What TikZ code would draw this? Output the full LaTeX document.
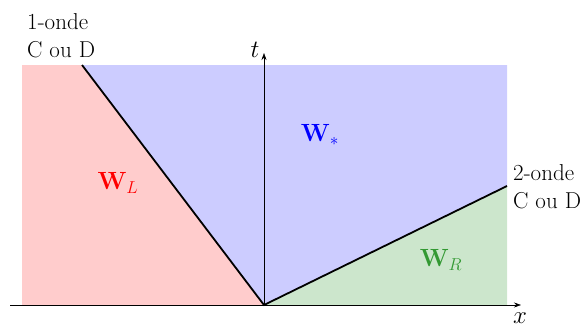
\documentclass[tikz,border=0pt]{standalone}
\usetikzlibrary{arrows.meta}
\definecolor{regL}{RGB}{255,204,204}
\definecolor{regS}{RGB}{204,204,255}
\definecolor{regR}{RGB}{204,230,204}
\definecolor{txR}{RGB}{51,153,51}
\begin{document}
\begin{tikzpicture}[x=1pt,y=-1pt,
  lbl/.style={font=\fontsize{23}{28}\selectfont, inner sep=0pt},
  wave/.style={line width=1.8pt},
  axis/.style={line width=0.6pt, -{Stealth[length=7pt,width=5pt]}}]
\useasboundingbox (0,0) rectangle (582,327);
\coordinate (O) at (264,305);
\coordinate (A) at (82,65);
\coordinate (B) at (507,186);
\fill[regL] (22,65) -- (A) -- (O) -- (22,305) -- cycle;
\fill[regS] (A) -- (507,65) -- (B) -- (O) -- cycle;
\fill[regR] (O) -- (B) -- (507,305) -- cycle;
\coordinate (xs) at (10,305);
\coordinate (xe) at (521,305);
\coordinate (ts) at (264,305);
\coordinate (te) at (264,53);
\draw[axis] (xs) -- (xe);
\draw[axis] (ts) -- (te);
\draw[wave] (A) -- (O) -- (B);
\node[lbl, anchor=base west] (w1a) at (27,29) {1-onde};
\node[lbl, anchor=base west] (w1b) at (27,57) {C ou D};
\node[lbl, anchor=base west] (w2a) at (513,180) {2-onde};
\node[lbl, anchor=base west] (w2b) at (513,208) {C ou D};
\node[lbl] (t) at (255,50) {$t$};
\node[lbl] (x) at (520,318) {$x$};
\node[lbl, text=red] (WL) at (118,183) {$\mathbf{W}_L$};
\node[lbl, text=blue] (WS) at (320,135) {$\mathbf{W}_*$};
\node[lbl, text=txR] (WR) at (441,260) {$\mathbf{W}_R$};
\end{tikzpicture}
\end{document}
